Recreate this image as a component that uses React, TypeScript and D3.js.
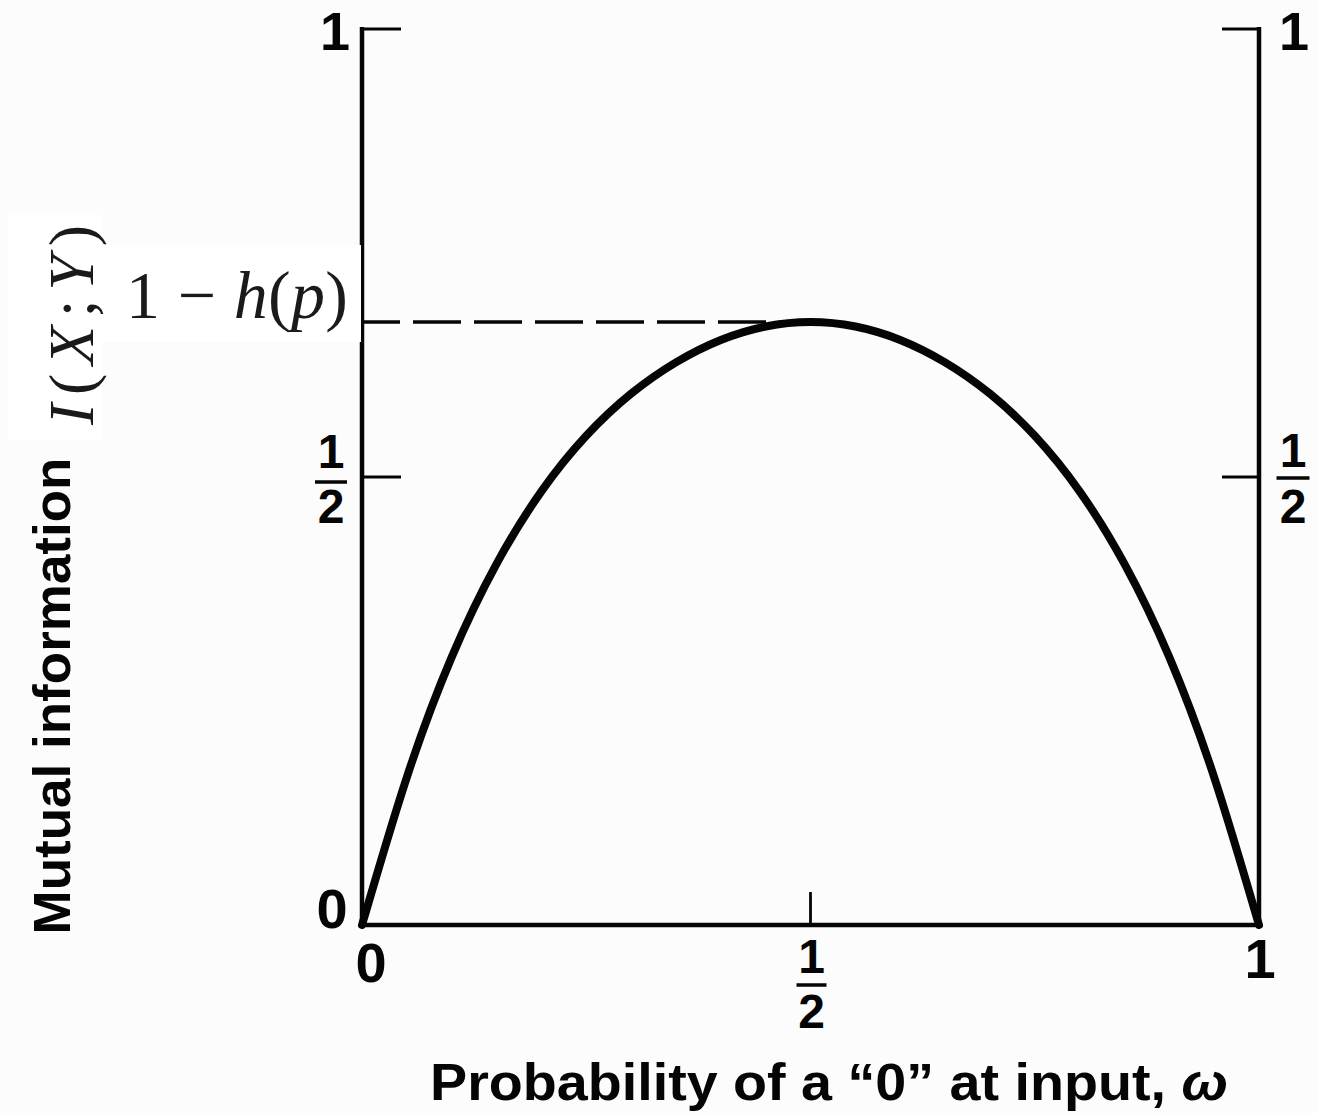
import React from "react";
import * as d3 from "d3";

// Input probability of a "0" (omega) and the mutual information I(X;Y)
const omega = [0, 0.05, 0.1, 0.15, 0.2, 0.25, 0.3, 0.35, 0.4, 0.45, 0.5, 0.55, 0.6, 0.65, 0.7, 0.75, 0.8, 0.85, 0.9, 0.95, 1];
const mutualInfo = [0, 0.165, 0.299, 0.403, 0.484, 0.546, 0.593, 0.628, 0.653, 0.668, 0.673, 0.668, 0.653, 0.628, 0.593, 0.546, 0.484, 0.403, 0.299, 0.165, 0];

// Capacity level 1 - h(p), the curve's maximum
const capacity = 0.673;

// Tick positions
const yTicks = [0, 0.5, 1];
const xTicks = [0, 0.5, 1];

const W = 1317;
const H = 1113;

const SANS = "'Liberation Sans', Arial, Helvetica, sans-serif";
const SERIF = "'Liberation Serif', 'Times New Roman', serif";

export default function App() {
  const x = d3.scaleLinear().domain([0, 1]).range([362, 1259]);
  const y = d3.scaleLinear().domain([0, 1]).range([925, 29]);

  const pts = omega.map((w, i) => [w, mutualInfo[i]] as [number, number]);
  const line = d3
    .line<[number, number]>()
    .x((d) => x(d[0]))
    .y((d) => y(d[1]))
    .curve(d3.curveNatural);

  const ink = "#050505";

  // Fraction label 1/2 centered at cx with its bar at barY
  const half = (cx: number, oneBase: number, barY: number, twoBase: number, barW: number, key: string) => (
    <g key={key} fontFamily={SANS} fontWeight="bold" fontSize={48} fill={ink} textAnchor="middle">
      <text x={cx} y={oneBase}>1</text>
      <line x1={cx - barW / 2} x2={cx + barW / 2} y1={barY} y2={barY} stroke={ink} strokeWidth={3.5} />
      <text x={cx} y={twoBase}>2</text>
    </g>
  );

  return (
    <svg width={W} height={H} style={{ position: "absolute", left: 0, top: 0 }}>
      <rect x={0} y={0} width={W} height={H} fill="#fcfcfc" />

      {/* axes: left, right and bottom */}
      <g stroke={ink} strokeWidth={4.5} fill="none">
        <line x1={x(0)} x2={x(0)} y1={y(1) - 2} y2={y(0) + 2} />
        <line x1={x(1)} x2={x(1)} y1={y(1) - 2} y2={y(0) + 2} />
        <line x1={x(0)} x2={x(1)} y1={y(0)} y2={y(0)} />
      </g>

      {/* ticks */}
      <g stroke={ink} strokeWidth={2.8}>
        {yTicks.filter((t) => t > 0).map((t) => (
          <g key={"yt" + t}>
            <line x1={x(0)} x2={x(0) + 39} y1={y(t)} y2={y(t)} />
            <line x1={x(1) - 37} x2={x(1)} y1={y(t)} y2={y(t)} />
          </g>
        ))}
        {xTicks.filter((t) => t > 0 && t < 1).map((t) => (
          <line key={"xt" + t} x1={x(t)} x2={x(t)} y1={y(0)} y2={y(0) - 33} />
        ))}
      </g>

      {/* dashed capacity level */}
      <line
        x1={x(0)}
        x2={x(0.5)}
        y1={y(capacity)}
        y2={y(capacity)}
        stroke={ink}
        strokeWidth={3.5}
        strokeDasharray="48 13"
        strokeDashoffset={10}
      />

      {/* mutual information curve */}
      <path d={line(pts) ?? ""} fill="none" stroke={ink} strokeWidth={8} strokeLinejoin="round" strokeLinecap="round" />

      {/* tick labels */}
      <g fontFamily={SANS} fontWeight="bold" fill={ink} textAnchor="middle">
        <text x={335} y={50} fontSize={54}>1</text>
        <text x={1294} y={50} fontSize={54}>1</text>
        <text x={332} y={928} fontSize={56}>0</text>
        <text x={x(0) + 9} y={982} fontSize={56}>0</text>
        <text x={x(1) + 1} y={978} fontSize={56}>1</text>
      </g>
      {half(331, 468, 482, 523, 32, "hl")}
      {half(1293, 467, 478, 523, 33, "hr")}
      {half(x(0.5) + 1, 973, 985, 1028, 30, "hx")}

      {/* capacity annotation */}
      <rect x={102} y={245} width={259} height={97} fill="#ffffff" />
      <text x={126} y={318} fontFamily={SERIF} fontSize={68} fill="#1a1a1a" textLength={222} lengthAdjust="spacing">
        <tspan>1 − </tspan>
        <tspan fontStyle="italic">h</tspan>
        <tspan>(</tspan>
        <tspan fontStyle="italic">p</tspan>
        <tspan>)</tspan>
      </text>

      {/* y axis title */}
      <rect x={8} y={215} width={94} height={225} fill="#ffffff" />
      <text
        transform="translate(93,325) rotate(-90)"
        textAnchor="middle"
        fontFamily={SERIF}
        fontSize={64}
        fill="#1a1a1a"
        textLength={200}
        lengthAdjust="spacing"
      >
        <tspan fontStyle="italic">I</tspan>
        <tspan>(</tspan>
        <tspan fontStyle="italic">X</tspan>
        <tspan>;</tspan>
        <tspan fontStyle="italic">Y</tspan>
        <tspan>)</tspan>
      </text>
      <text
        transform="translate(70,696) rotate(-90)"
        textAnchor="middle"
        fontFamily={SANS}
        fontWeight="bold"
        fontSize={52}
        fill={ink}
        textLength={477}
        lengthAdjust="spacingAndGlyphs"
      >
        Mutual information
      </text>

      {/* x axis title */}
      <text
        x={829}
        y={1100}
        textAnchor="middle"
        fontFamily={SANS}
        fontWeight="bold"
        fontSize={52}
        fill={ink}
        textLength={798}
        lengthAdjust="spacingAndGlyphs"
      >
        Probability of a “0” at input, <tspan fontStyle="italic">ω</tspan>
      </text>
    </svg>
  );
}
